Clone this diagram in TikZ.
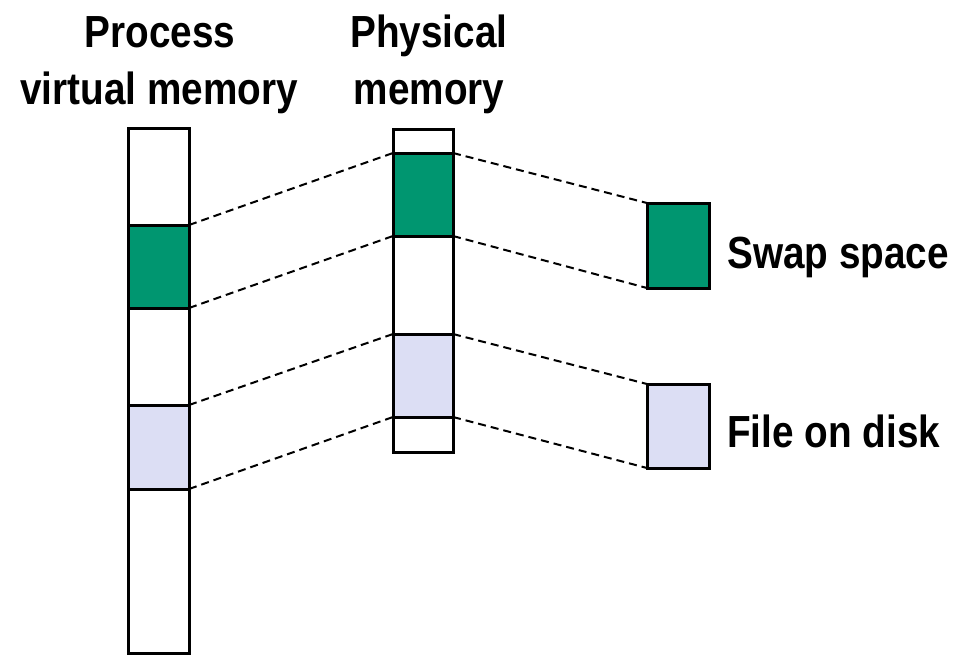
\documentclass[tikz,border=0pt]{standalone}
\usepackage{fontspec}
\setmainfont{Liberation Sans}[FakeStretch=0.86]
\definecolor{swapgreen}{RGB}{0,150,112}
\definecolor{filelav}{RGB}{220,222,244}
\begin{document}
\begin{tikzpicture}[x=1pt,y=-1pt,
  blk/.style={draw=black,line width=3pt,inner sep=0pt,outer sep=0pt,anchor=north west},
  conn/.style={draw=black,line width=2pt,dash pattern=on 8pt off 5pt},
  lbl/.style={font=\fontsize{45}{54}\selectfont\bfseries,inner sep=0pt},
  ]
\useasboundingbox (0,0) rectangle (966,656);
% virtual memory column
\node[blk,minimum width=61pt,minimum height=525pt] (vm) at (128,128) {};
\node[blk,fill=swapgreen,minimum width=61pt,minimum height=83pt] (vg) at (128,225) {};
\node[blk,fill=filelav,minimum width=61pt,minimum height=84pt] (vl) at (128,405) {};
% physical memory column
\node[blk,minimum width=60pt,minimum height=323pt] (pm) at (393,129) {};
\node[blk,fill=swapgreen,minimum width=60pt,minimum height=83pt] (pg) at (393,153) {};
\node[blk,fill=filelav,minimum width=60pt,minimum height=83pt] (pl) at (393,334) {};
% disk
\node[blk,fill=swapgreen,minimum width=62pt,minimum height=85pt] (sw) at (647,203) {};
\node[blk,fill=filelav,minimum width=62pt,minimum height=84pt] (fd) at (647,384) {};
% connectors
\draw[conn] (vg.north east) -- (pg.north west);
\draw[conn] (vg.south east) -- (pg.south west);
\draw[conn] (vl.north east) -- (pl.north west);
\draw[conn] (vl.south east) -- (pl.south west);
\draw[conn] (pg.north east) -- (sw.north west);
\draw[conn] (pg.south east) -- (sw.south west);
\draw[conn] (pl.north east) -- (fd.north west);
\draw[conn] (pl.south east) -- (fd.south west);
% labels
\node[lbl,anchor=base] (t1) at (160,47) {Process};
\node[lbl,anchor=base] (t2) at (159,104) {virtual memory};
\node[lbl,anchor=base] (t3) at (429,47) {Physical};
\node[lbl,anchor=base] (t4) at (429,104) {memory};
\node[lbl,anchor=base west] (t5) at (727,268) {Swap space};
\node[lbl,anchor=base west] (t6) at (727,447) {File on disk};
\end{tikzpicture}
\end{document}
